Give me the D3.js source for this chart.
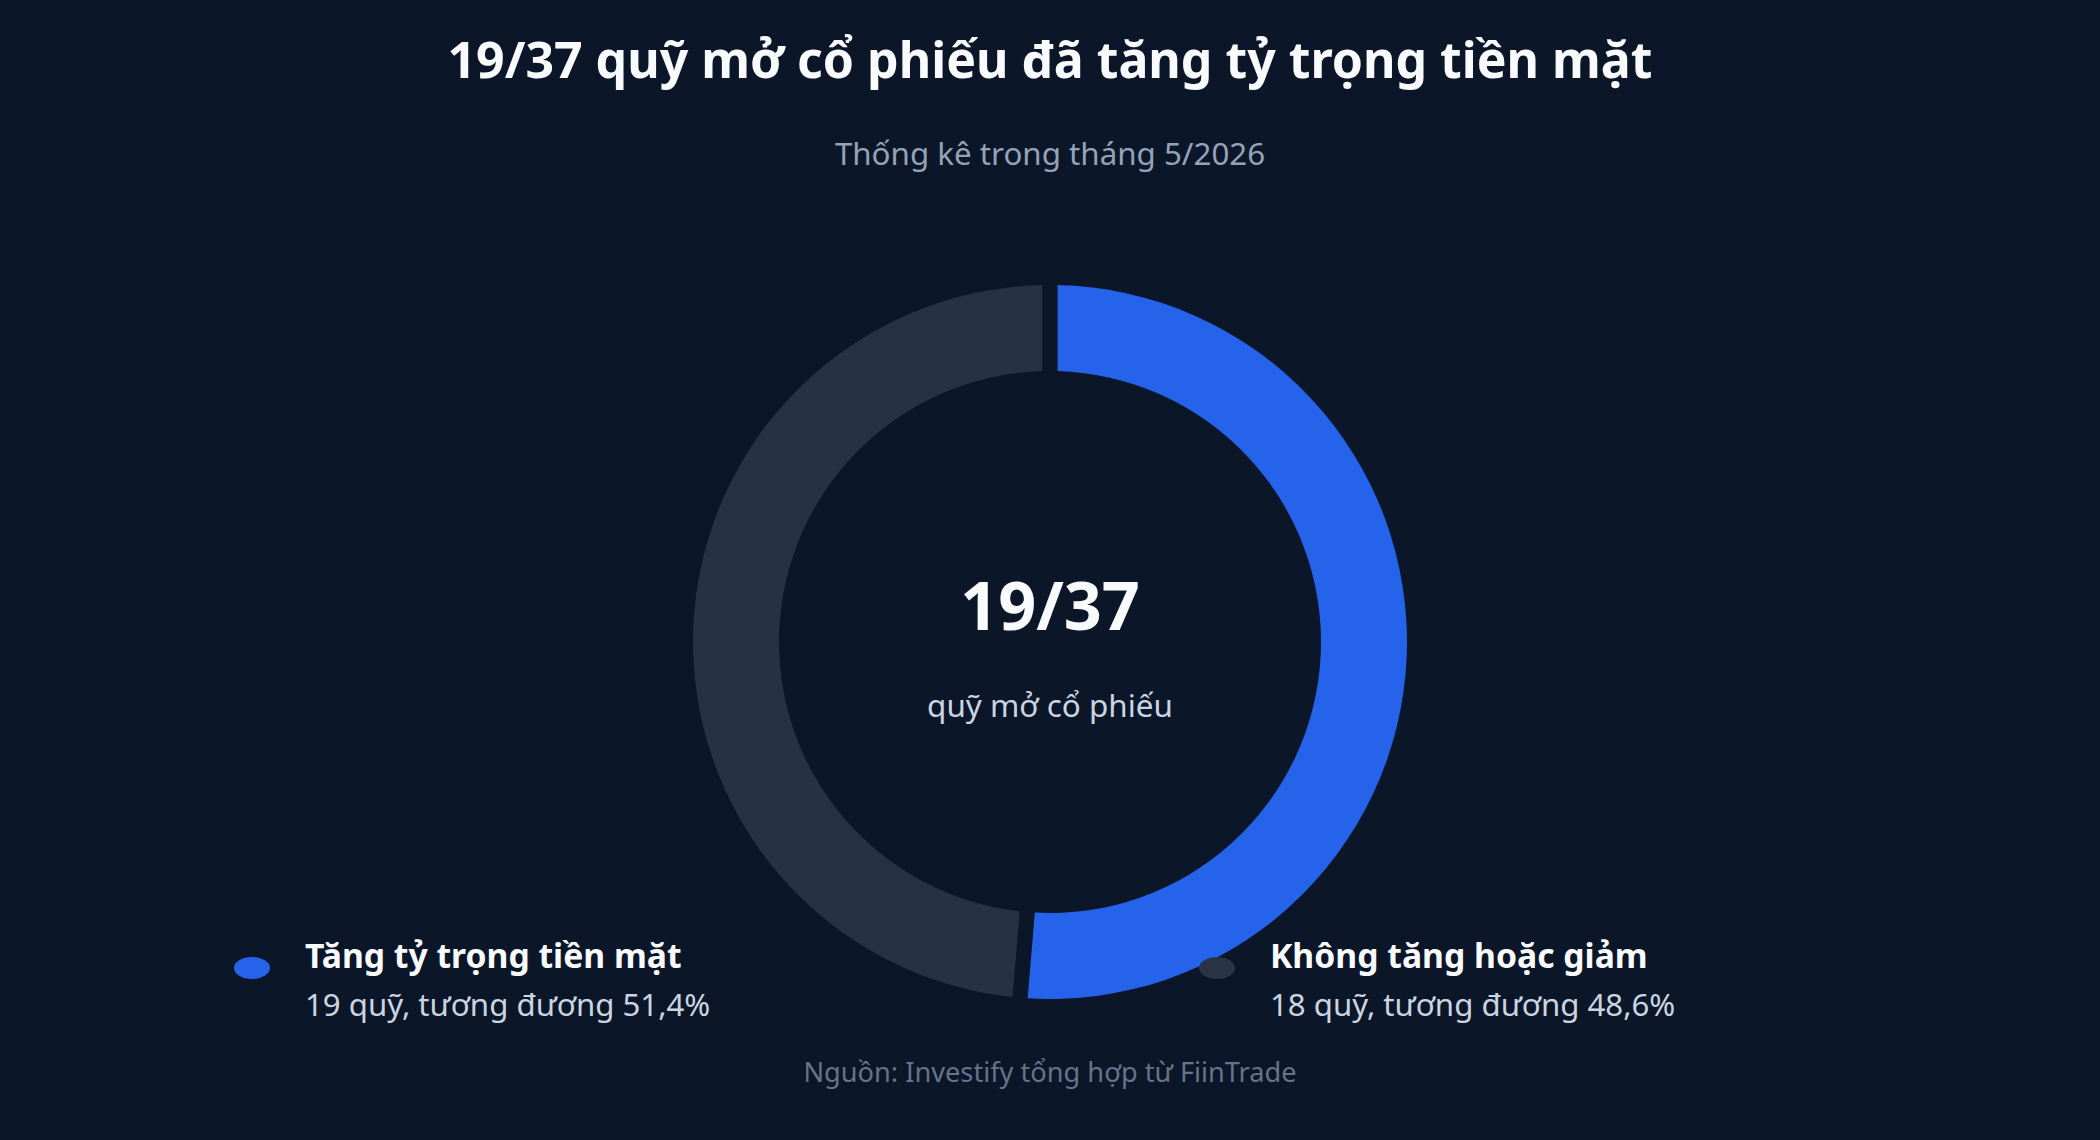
<!DOCTYPE html>
<html><head><meta charset="utf-8">
<script src="https://cdn.jsdelivr.net/npm/d3@7"></script>
<style>
html,body{margin:0;padding:0;background:#0b1628;}
svg{display:block;font-family:"Noto Sans",sans-serif;}
</style></head>
<body>
<svg id="chart" width="2100" height="1140"></svg>
<script>
const categories = ["Tăng tỷ trọng tiền mặt", "Không tăng hoặc giảm"];
const values = [19, 18];
const details = ["19 quỹ, tương đương 51,4%", "18 quỹ, tương đương 48,6%"];
const colors = ["#2563eb", "#253246"];
const dotColors = ["#2563eb", "#2a3447"];
const titleText = "19/37 quỹ mở cổ phiếu đã tăng tỷ trọng tiền mặt";
const subtitleText = "Thống kê trong tháng 5/2026";
const centerValue = "19/37";
const centerLabel = "quỹ mở cổ phiếu";
const sourceText = "Nguồn: Investify tổng hợp từ FiinTrade";

const W = 2100, H = 1140;
const svg = d3.select("#chart");
svg.append("rect").attr("width", W).attr("height", H).attr("fill", "#0b1628");

svg.append("text").attr("x", W/2).attr("y", 78).attr("text-anchor","middle")
  .attr("fill","#f8fafc").attr("font-size",50).attr("font-weight",700).text(titleText);
svg.append("text").attr("x", W/2).attr("y", 165).attr("text-anchor","middle")
  .attr("fill","#94a3b8").attr("font-size",31.3).text(subtitleText);

const cx = 1050, cy = 642, R = 357, r = 271;
const g = svg.append("g").attr("transform", `translate(${cx},${cy})`);
const pie = d3.pie().sort(null).value(d => d).padAngle(0.034);
const arc = d3.arc().innerRadius(r).outerRadius(R);
g.selectAll("path").data(pie(values)).join("path")
  .attr("d", arc).attr("fill", (d,i) => colors[i]);

g.append("text").attr("x",0).attr("y",-12).attr("text-anchor","middle")
  .attr("fill","#f8fafc").attr("font-size",66.5).attr("font-weight",700).text(centerValue);
g.append("text").attr("x",0).attr("y",75).attr("text-anchor","middle")
  .attr("fill","#cbd5e1").attr("font-size",31.4).text(centerLabel);

const legendX = [252, 1217];
const leg = svg.selectAll("g.leg").data(categories).join("g").attr("class","leg")
  .attr("transform",(d,i)=>`translate(${legendX[i]},968)`);
leg.append("ellipse").attr("cx",0).attr("cy",0).attr("rx",18).attr("ry",11)
  .attr("fill",(d,i)=>dotColors[i]);
leg.append("text").attr("x",53).attr("y",0).attr("fill","#f8fafc")
  .attr("font-size",33.7).attr("font-weight",700).text(d=>d);
leg.append("text").attr("x",53).attr("y",48).attr("fill","#cbd5e1")
  .attr("font-size",31.2).text((d,i)=>details[i]);

svg.append("text").attr("x", W/2).attr("y", 1082).attr("text-anchor","middle")
  .attr("fill","#64748b").attr("font-size",27.2).text(sourceText);
</script>
</body></html>
